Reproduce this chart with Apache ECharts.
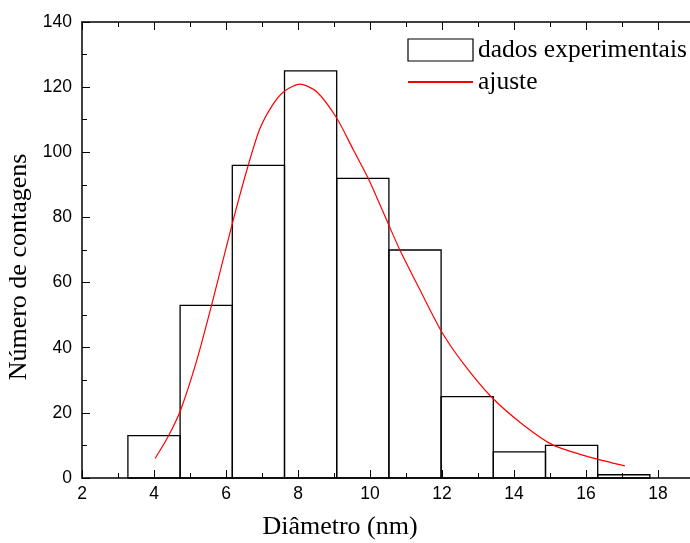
<!DOCTYPE html>
<html>
<head>
<meta charset="utf-8">
<script src="https://cdn.jsdelivr.net/npm/echarts@6/dist/echarts.min.js"></script>
<style>
html, body { margin: 0; padding: 0; background: #fff; }
#chart { width: 690px; height: 543px; }
</style>
</head>
<body>
<div id="chart"></div>
<script>
// histograma: centro das classes e contagens
var binCenters = [4.0, 5.45, 6.9, 8.35, 9.8, 11.25, 12.7, 14.15, 15.6, 17.05];
var binWidth = 1.45;
var counts = [13, 53, 96, 125, 92, 70, 25, 8, 10, 1];

// curva de ajuste
var fitX = [4.03, 4.4, 4.74, 5.19, 5.6, 6.2, 6.62, 6.94, 7.31, 7.64, 8.06, 8.52, 9.07, 9.54, 9.95, 10.54, 10.83, 11.39, 11.99, 12.59, 13.38, 14.26, 15.09, 16.11, 17.08];
var fitY = [6.0, 12.9, 20.9, 36.2, 53.1, 79.2, 96.1, 107.2, 114.8, 118.9, 120.9, 118.6, 110.6, 100.7, 92.0, 77.2, 70, 57.7, 44.9, 35.2, 24.8, 16.3, 10.1, 6.4, 3.7];

var histData = binCenters.map(function (c, i) {
	return [c - binWidth / 2, c + binWidth / 2, counts[i]];
});
var fitData = fitX.map(function (x, i) { return [x, fitY[i]]; });

var myChart = echarts.init(document.getElementById('chart'));

var tickFont = { fontFamily: 'Liberation Sans', fontSize: 17.5, color: '#000' };
var axisLine = { lineStyle: { color: '#000', width: 1.5 } };
var titleFont = { fontFamily: 'Liberation Serif', fontSize: 26, color: '#000' };

var option = {
	animation: false,
	grid: { left: 82, top: 22, right: -4, bottom: 65, outerBoundsMode: 'none', containLabel: false },
	legend: {
		orient: 'vertical',
		left: 402,
		top: 32,
		itemWidth: 65,
		itemHeight: 22,
		itemGap: 6,
		textStyle: { fontFamily: 'Liberation Serif', fontSize: 25.5, color: '#000' },
		data: [
			{ name: 'dados experimentais', icon: 'rect', itemStyle: { color: '#fff', borderColor: '#000', borderWidth: 1.2 } },
			{ name: 'ajuste', itemStyle: { color: 'rgba(0,0,0,0)', borderWidth: 0 } }
		]
	},
	xAxis: [{
		type: 'value',
		min: 2,
		max: 19,
		interval: 2,
		name: 'Diâmetro (nm)',
		nameLocation: 'middle',
		nameGap: 36,
		nameTextStyle: Object.assign({ padding: [0, 96, 0, 0] }, titleFont),
		axisLine: axisLine,
		axisTick: { inside: true, length: 8, lineStyle: { color: '#000' } },
		minorTick: { show: true, splitNumber: 2, length: 5, lineStyle: { color: '#000' } },
		axisLabel: Object.assign({ margin: 7, showMaxLabel: false }, tickFont),
		splitLine: { show: false }
	}, {
		type: 'value',
		position: 'top',
		min: 2,
		max: 19,
		interval: 2,
		axisLine: axisLine,
		axisTick: { inside: true, length: 8, lineStyle: { color: '#000' } },
		minorTick: { show: true, splitNumber: 2, length: 5, lineStyle: { color: '#000' } },
		axisLabel: { show: false },
		splitLine: { show: false }
	}],
	yAxis: {
		type: 'value',
		min: 0,
		max: 140,
		interval: 20,
		name: 'Número de contagens',
		nameLocation: 'middle',
		nameGap: 40,
		nameTextStyle: Object.assign({ padding: [0, 34, 0, 0] }, titleFont),
		axisLine: Object.assign({ show: true }, axisLine),
		axisTick: { inside: true, length: 8, lineStyle: { color: '#000' } },
		minorTick: { show: true, splitNumber: 2, length: 5, lineStyle: { color: '#000' } },
		axisLabel: Object.assign({ margin: 10 }, tickFont),
		splitLine: { show: false }
	},
	series: [{
		name: 'dados experimentais',
		type: 'custom',
		data: histData,
		renderItem: function (params, api) {
			var p0 = api.coord([api.value(0), 0]);
			var p1 = api.coord([api.value(1), api.value(2)]);
			return {
				type: 'rect',
				shape: { x: p0[0], y: p1[1], width: p1[0] - p0[0], height: p0[1] - p1[1] },
				style: { fill: 'none', stroke: '#000', lineWidth: 1.3 }
			};
		},
		itemStyle: { color: '#fff', borderColor: '#000' },
		z: 2
	}, {
		name: 'ajuste',
		type: 'line',
		data: fitData,
		smooth: 0.25,
		symbol: 'none',
		lineStyle: { color: '#ff0000', width: 1.2 },
		itemStyle: { color: '#ff0000' },
		z: 3
	}]
};

myChart.setOption(option);
</script>
</body>
</html>
